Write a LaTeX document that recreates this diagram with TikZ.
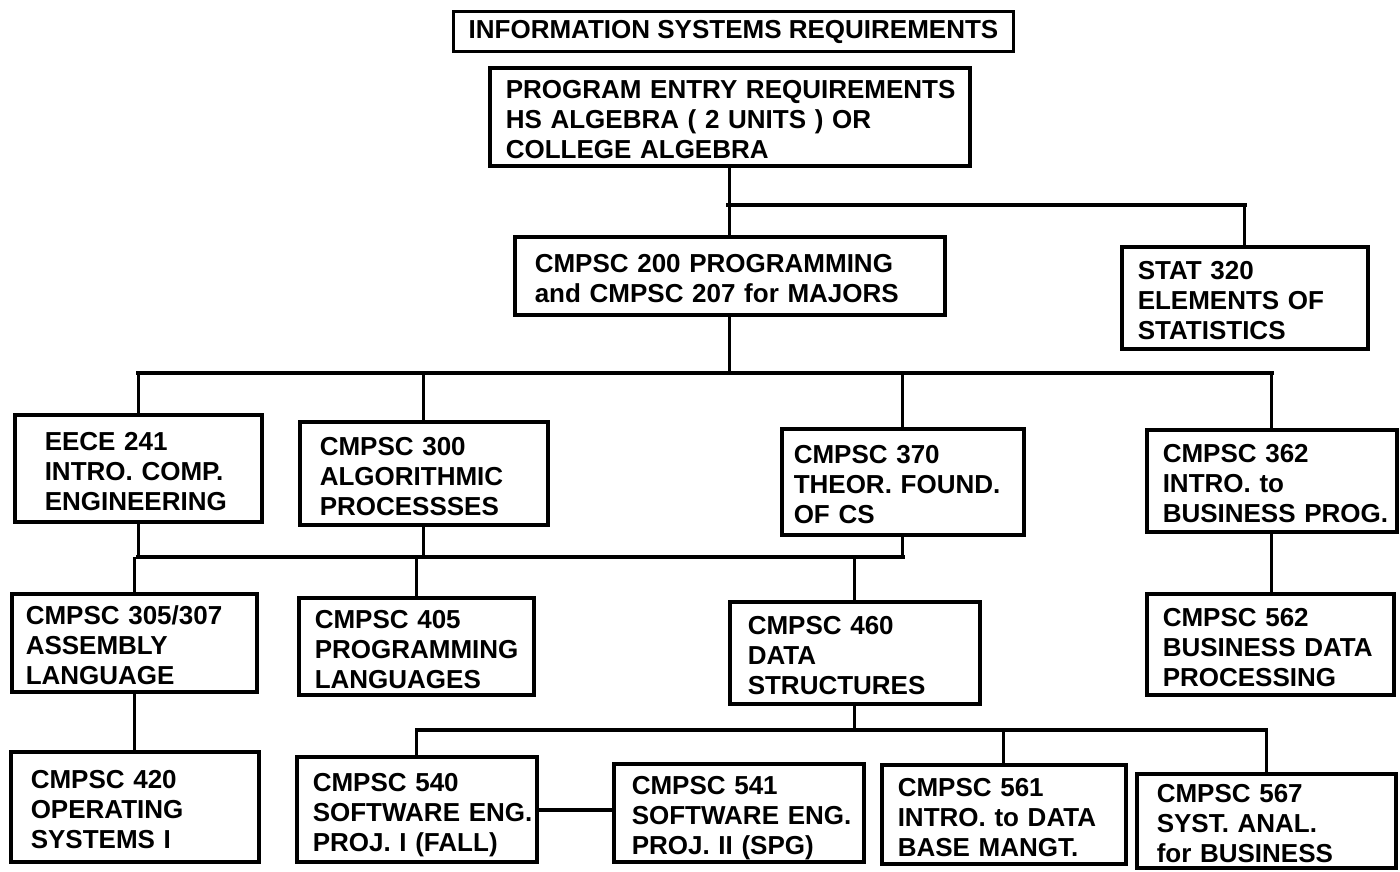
\documentclass[tikz,border=0pt]{standalone}
\usepackage{fontspec}
\setmainfont{Liberation Sans}
\begin{document}
\begin{tikzpicture}[x=1pt,y=-1pt,
  box/.style={draw, line width=3.5pt, anchor=north west, inner ysep=0pt,
              align=left, font=\fontsize{26}{30}\selectfont\bfseries},
  titlebox/.style={draw, line width=3pt, anchor=north west, inner sep=0pt,
              font=\fontsize{26}{30}\selectfont\bfseries},
  link/.style={line width=2.6pt},
  bus/.style={line width=4.2pt, line cap=rect}]
\useasboundingbox (0,0) rectangle (1400,871);
\newcommand\course[7][16]{%
  \pgfmathsetmacro\tw{#5-2*#1}%
  \node[box, inner xsep=#1pt, minimum width=#5pt, minimum height=#6pt, text width=\tw pt] (#2) at (#3,#4)
    {\raisebox{-6pt}[\height][\depth]{\begin{tabular}{@{}l@{}}#7\end{tabular}}};}
% boxes
\node[titlebox, minimum width=560pt, minimum height=40pt] (title) at (452,10) {INFORMATION SYSTEMS REQUIREMENTS};
\course{entry}{488}{66}{480}{98}{PROGRAM ENTRY REQUIREMENTS\\HS ALGEBRA ( 2 UNITS ) OR\\COLLEGE ALGEBRA}
\course[20]{c200}{513}{235}{430}{78}{CMPSC 200 PROGRAMMING\\and CMPSC 207 for MAJORS}
\course{stat}{1120}{245}{246}{102}{STAT 320\\ELEMENTS OF\\STATISTICS}
\course[30]{eece}{13}{413}{247}{107}{EECE 241\\INTRO. COMP.\\ENGINEERING}
\course[20]{c300}{298}{420}{248}{103}{CMPSC 300\\ALGORITHMIC\\PROCESSSES}
\course[12]{c370}{780}{427}{242}{106}{CMPSC 370\\THEOR. FOUND.\\OF CS}
\course{c362}{1145}{428}{250}{102}{CMPSC 362\\INTRO. to\\BUSINESS PROG.}
\course[14]{c305}{10}{592}{245}{98}{CMPSC 305/307\\ASSEMBLY\\LANGUAGE}
\course{c405}{297}{596}{235}{97}{CMPSC 405\\PROGRAMMING\\LANGUAGES}
\course[18]{c460}{728}{600}{250}{102}{CMPSC 460\\DATA\\STRUCTURES}
\course{c562}{1145}{592}{247}{101}{CMPSC 562\\BUSINESS DATA\\PROCESSING}
\course[20]{c420}{9}{750}{248}{110}{CMPSC 420\\OPERATING\\SYSTEMS I}
\course{c540}{295}{755}{240}{105}{CMPSC 540\\SOFTWARE ENG.\\PROJ. I (FALL)}
\course[18]{c541}{612}{762}{250}{98}{CMPSC 541\\SOFTWARE ENG.\\PROJ. II (SPG)}
\course{c561}{880}{763}{244}{99}{CMPSC 561\\INTRO. to DATA\\BASE MANGT.}
\course[20]{c567}{1135}{772}{259}{94}{CMPSC 567\\SYST. ANAL.\\for BUSINESS}
% bus levels
\coordinate (j1) at (728,205);
\coordinate (b1) at (0,373);
\coordinate (b2) at (0,557);
\coordinate (b3) at (0,730);
% level 0 -> 1
\draw[link] (entry.south) -- (entry.south |- c200.north);
\draw[bus] (j1) -- (j1 -| stat.north);
\draw[link] (j1 -| stat.north) -- (stat.north);
% level 1 -> 2
\draw[link] (c200.south) -- (c200.south |- b1);
\draw[bus] (eece.north |- b1) -- (c362.north |- b1);
\draw[link] (eece.north |- b1) -- (eece.north);
\draw[link] (c300.north |- b1) -- (c300.north);
\draw[link] (c370.north |- b1) -- (c370.north);
\draw[link] (c362.north |- b1) -- (c362.north);
% level 2 -> 3
\draw[bus] (eece.south |- b2) -- (c370.south |- b2);
\draw[link] (eece.south) -- (eece.south |- b2);
\draw[link] (c300.south) -- (c300.south |- b2);
\draw[link] (c370.south) -- (c370.south |- b2);
\draw[link] (c305.north |- b2) -- (c305.north);
\draw[link] (c405.north |- b2) -- (c405.north);
\draw[link] (c460.north |- b2) -- (c460.north);
\draw[link] (c362.south) -- (c362.south |- c562.north);
% level 3 -> 4
\draw[link] (c305.south) -- (c305.south |- c420.north);
\draw[link] (c460.south) -- (c460.south |- b3);
\draw[bus] (c540.north |- b3) -- (c567.north |- b3);
\draw[link] (c540.north |- b3) -- (c540.north);
\draw[link] (c561.north |- b3) -- (c561.north);
\draw[link] (c567.north |- b3) -- (c567.north);
\draw[bus] (c540.east |- 0,810) -- (c541.west |- 0,810);
\end{tikzpicture}
\end{document}
